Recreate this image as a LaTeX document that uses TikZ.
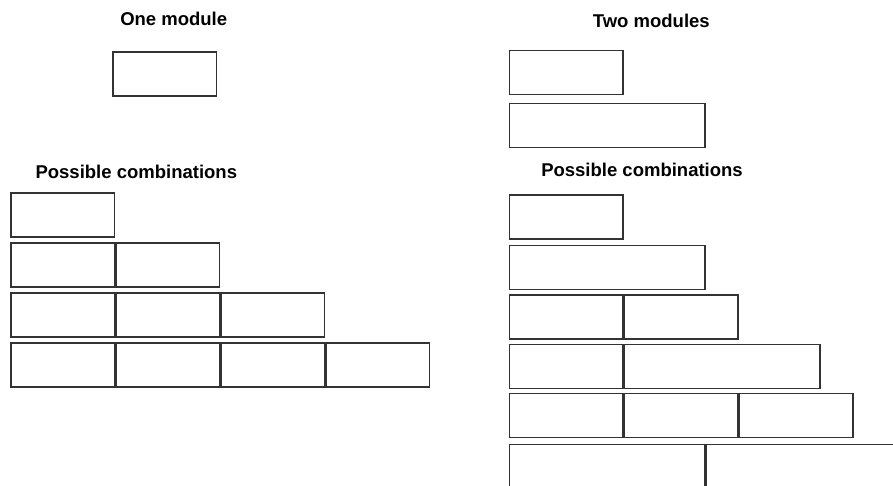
\documentclass[tikz,border=0pt]{standalone}
\usepackage{fontspec}
\setmainfont{Liberation Sans}
\usetikzlibrary{positioning}

\begin{document}
\begin{tikzpicture}[x=1pt, y=-1pt,
				title/.style={font=\bfseries\fontsize{18.5}{20}\selectfont, inner sep=0pt},
				unit/.style={draw=black!80, line width=1.3pt, minimum height=44pt, inner sep=0pt, outer sep=0pt, anchor=north west},
				small/.style={unit, minimum width=103.5pt},
				rsmall/.style={unit, minimum width=113.5pt},
				rbig/.style={unit, minimum width=195.5pt}]
				%Bildbereich
				\useasboundingbox (0,0) rectangle (893,486);
				\clip (0,0) rectangle (893,486);
				% linke Seite: ein Modul
				\node[title] (onetitle) at (173.7,19) {One module};
				\node[small] (one) at (113,52) {};
				\node[title] (leftcomb) at (136.3,171.7) {Possible combinations};
				% Reihen mit 1 bis 4 Modulen
				\foreach \r in {1,...,4}
					\foreach \c in {1,...,\r}
						\node[small] (l\r\c) at ({11+(\c-1)*105},{193+(\r-1)*50}) {};
				% rechte Seite: zwei Module
				\node[title] (twotitle) at (651.3,20.7) {Two modules};
				\node[rsmall] (twoa) at (509.5,50.5) {};
				\node[rbig] (twob) at (509.5,103.5) {};
				\node[title] (rightcomb) at (642,170) {Possible combinations};
				% Kombinationen
				\node[rsmall] (r1a) at (509.5,195) {};
				\node[rbig] (r2a) at (509.5,245.5) {};
				\node[rsmall] (r3a) at (509.5,295) {};
				\node[rsmall, right=1.5pt of r3a] (r3b) {};
				\node[rsmall] (r4a) at (509.5,344.5) {};
				\node[rbig, right=1.5pt of r4a] (r4b) {};
				\node[rsmall] (r5a) at (509.5,393.5) {};
				\node[rsmall, right=1.5pt of r5a] (r5b) {};
				\node[rsmall, right=1.5pt of r5b] (r5c) {};
				\node[rbig] (r6a) at (509.5,444.5) {};
				\node[rbig, right=1.5pt of r6a] (r6b) {};
			\end{tikzpicture}
\end{document}
